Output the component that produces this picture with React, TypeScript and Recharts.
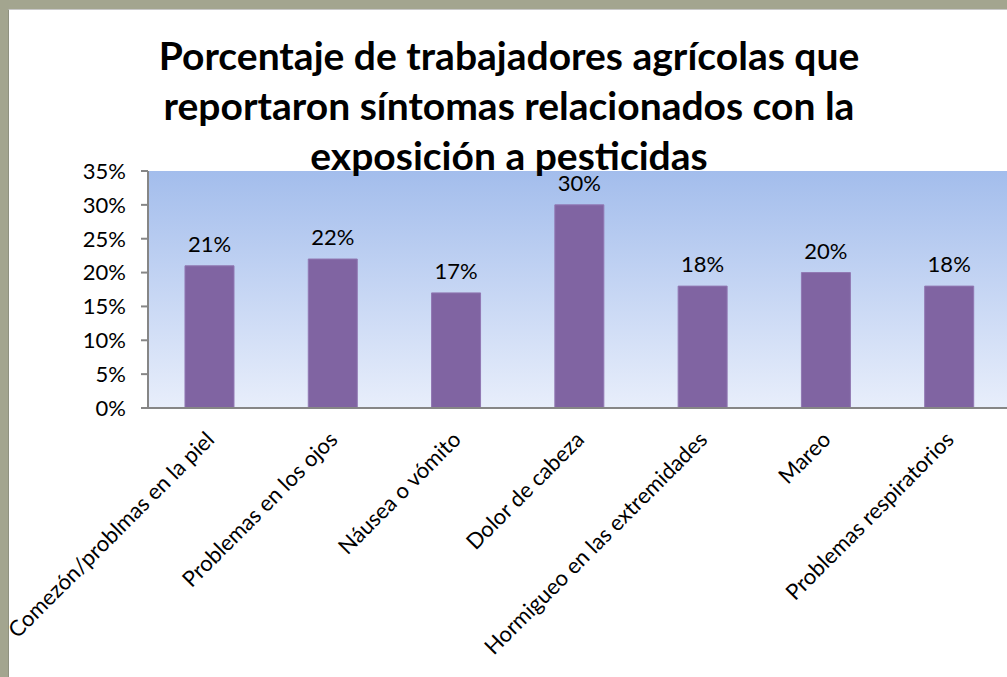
import { BarChart, Bar, XAxis, YAxis, CartesianGrid, LabelList } from 'recharts';

const categories = [
  'Comezón/problmas en la piel',
  'Problemas en los ojos',
  'Náusea o vómito',
  'Dolor de cabeza',
  'Hormigueo en las extremidades',
  'Mareo',
  'Problemas respiratorios',
];
const percentages = [0.21, 0.22, 0.17, 0.3, 0.18, 0.2, 0.18];
const yTicks = [0, 0.05, 0.1, 0.15, 0.2, 0.25, 0.3, 0.35];
const titleLines = [
  'Porcentaje de trabajadores agrícolas que',
  'reportaron síntomas relacionados con la',
  'exposición a pesticidas',
];

const chartData = categories.map((name, i) => ({ name, value: percentages[i] }));

const FONT = 'Lato, "Open Sans", sans-serif';
const pct = (v: number) => `${Math.round(v * 100)}%`;

const AngledTick = ({ x, y, payload }: any) => (
  <g transform={`translate(${x + 6},${y + 25})`}>
    <text
      transform="rotate(-45)"
      textAnchor="end"
      fill="#000"
      fontSize={22}
      fontFamily={FONT}
    >
      {payload.value}
    </text>
  </g>
);

const App = () => {
  return (
    <div
      style={{
        position: 'fixed',
        left: 0,
        top: 0,
        width: 1007,
        height: 677,
        overflow: 'hidden',
        background: '#a3a58f',
      }}
    >
      <svg width={0} height={0} style={{ position: 'absolute' }}>
        <defs>
          <linearGradient id="plotBg" x1="0" y1="0" x2="0" y2="1">
            <stop offset="0%" stopColor="#a3bdec" />
            <stop offset="100%" stopColor="#e8eefb" />
          </linearGradient>
        </defs>
      </svg>
      <div
        style={{
          position: 'absolute',
          left: 8,
          top: 9,
          width: 1020,
          height: 690,
          background: '#fff',
          borderTop: '1px solid #c8c8c8',
          borderLeft: '1px solid #8f9180',
        }}
      />
      <div style={{ position: 'absolute', left: 0, top: 0 }}>
        <BarChart
          width={1020}
          height={677}
          data={chartData}
          margin={{ top: 171, right: 9, left: 0, bottom: 19 }}
          barCategoryGap="30%"
        >
          <CartesianGrid horizontal={false} vertical={false} fill="url(#plotBg)" />
          <XAxis
            dataKey="name"
            interval={0}
            height={250}
            tickLine={false}
            axisLine={{ stroke: '#868686', strokeWidth: 2 }}
            tick={<AngledTick />}
          />
          <YAxis
            width={148}
            domain={[0, 0.35]}
            ticks={yTicks}
            tickFormatter={pct}
            tickSize={7}
            tickMargin={15}
            axisLine={{ stroke: '#868686', strokeWidth: 2 }}
            tickLine={{ stroke: '#868686', strokeWidth: 2 }}
            tick={{ fill: '#000', fontSize: 22, fontFamily: FONT }}
          />
          <Bar
            dataKey="value"
            fill="#8064a2"
            stroke="#9178b3"
            strokeWidth={1}
            isAnimationActive={false}
          >
            <LabelList
              dataKey="value"
              position="top"
              offset={14}
              formatter={(v: any) => pct(Number(v))}
              style={{ fill: '#000', fontSize: 22, fontFamily: FONT }}
            />
          </Bar>
        </BarChart>
      </div>
      <svg
        width={1007}
        height={200}
        style={{ position: 'absolute', left: 0, top: 0, pointerEvents: 'none' }}
      >
        {titleLines.map((line, i) => (
          <text
            key={line}
            x={509}
            y={70 + i * 50}
            textAnchor="middle"
            fontSize={39}
            fontWeight="bold"
            fontFamily={FONT}
            fill="#000"
          >
            {line}
          </text>
        ))}
      </svg>
    </div>
  );
};

export default App;
